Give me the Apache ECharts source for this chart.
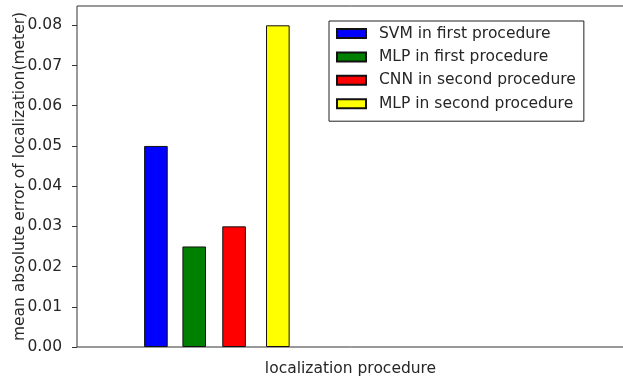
<!DOCTYPE html>
<html>
<head>
<meta charset="utf-8">
<script src="https://cdn.jsdelivr.net/npm/echarts@6/dist/echarts.min.js"></script>
<style>html,body{margin:0;padding:0;background:#fff}#c{width:623px;height:381px}</style>
</head>
<body>
<div id="c"></div>
<script>
const seriesNames = ['SVM in first procedure', 'MLP in first procedure', 'CNN in second procedure', 'MLP in second procedure'];
const barX = [1.01, 1.5, 2.01, 2.57];
const barValues = [0.05, 0.025, 0.03, 0.08];
const barColors = ['#0000ff', '#008000', '#ff0000', '#ffff00'];
const yTicks = [0, 0.01, 0.02, 0.03, 0.04, 0.05, 0.06, 0.07, 0.08];

const font = 'DejaVu Sans';
const txt = '#262626';
const fs = 15.5;
const chart = echarts.init(document.getElementById('c'), null, {renderer: 'canvas'});
chart.setOption({
  animation: false,
  backgroundColor: '#fff',
  textStyle: {fontFamily: font},
  grid: {left: 77, top: 6, right: -1, bottom: 34, show: true, borderColor: '#333', borderWidth: 1,
         backgroundColor: 'transparent', containLabel: false, outerBoundsMode: 'none'},
  legend: {
    orient: 'vertical', left: 329, top: 21,
    padding: [4, 8, 9, 7],
    icon: 'rect',
    itemWidth: 29, itemHeight: 9, itemGap: 6.4,
    backgroundColor: '#fff', borderColor: '#222', borderWidth: 1, borderRadius: 0,
    textStyle: {fontFamily: font, fontSize: fs, color: txt, lineHeight: 17, padding: [0, 0, 0, 8]},
    data: seriesNames
  },
  xAxis: {
    type: 'value', min: 0, max: 7,
    name: 'localization procedure', nameLocation: 'middle', nameGap: 14, nameMoveOverlap: false,
    nameTextStyle: {fontFamily: font, fontSize: fs, color: txt},
    axisLine: {show: false}, axisTick: {show: false}, axisLabel: {show: false}, splitLine: {show: false}
  },
  yAxis: {
    type: 'value', min: 0, max: 0.0848,
    name: 'mean absolute error of localization(meter)', nameLocation: 'middle', nameGap: 49, nameMoveOverlap: false,
    nameTextStyle: {fontFamily: font, fontSize: fs, color: txt},
    axisLine: {show: false},
    axisTick: {show: true, length: 5, lineStyle: {color: '#333'}, customValues: yTicks},
    axisLabel: {fontFamily: font, fontSize: fs, color: txt, margin: 15, customValues: yTicks, formatter: v => v.toFixed(2)},
    splitLine: {show: false}
  },
  series: seriesNames.map((n, i) => ({
    name: n, type: 'bar', barWidth: 23.6, barGap: '-100%',
    itemStyle: {color: barColors[i], borderColor: '#111', borderWidth: 1},
    data: [[barX[i], barValues[i]]]
  }))
});
</script>
</body>
</html>
